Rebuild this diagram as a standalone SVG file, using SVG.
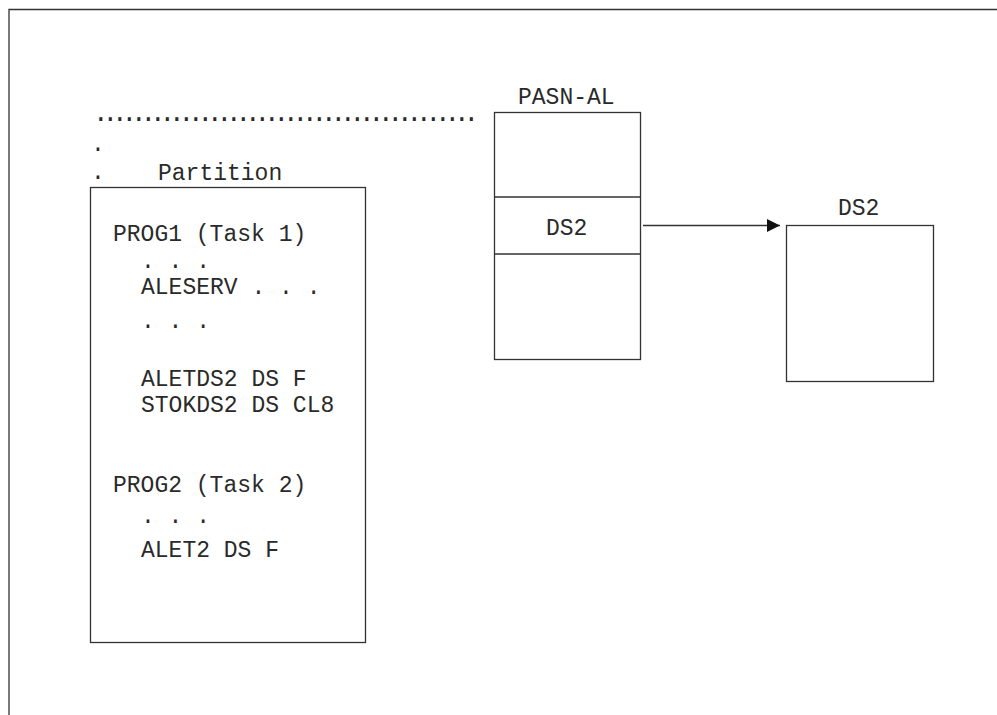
<svg xmlns="http://www.w3.org/2000/svg" width="997" height="715" viewBox="0 0 997 715">
  <style>
    .t { font-family: "Liberation Mono", "DejaVu Sans Mono", monospace; font-size: 23px; fill: #2a2a2a; }
    .dots { font-size: 26px; letter-spacing: -6.1px; }
    .box { fill: none; stroke: #333; stroke-width: 1.3; }
    .ln { stroke: #333; stroke-width: 1.3; fill: none; }
  </style>
  <defs>
    <marker id="arrow" markerWidth="13" markerHeight="13" refX="13" refY="6.5" orient="auto" markerUnits="userSpaceOnUse">
      <path d="M0,0 L13,6.5 L0,13 Z" fill="#111"/>
    </marker>
  </defs>
  <rect width="997" height="715" fill="#fff"/>

  <!-- page frame -->
  <path class="ln" d="M9,715 L9,9.5 L997,9.5"/>

  <!-- dotted boundary of the partition area -->
  <g id="boundary">
    <text class="t dots" x="93" y="121">........................................</text>
    <text class="t" x="91" y="151">.</text>
    <text class="t" x="91" y="179">.</text>
  </g>

  <!-- partition with two programs -->
  <g id="partition">
    <text class="t" x="158" y="180">Partition</text>
    <rect class="box" x="90.5" y="187.5" width="275" height="455"/>
    <text class="t" x="113" y="241">PROG1 (Task 1)</text>
    <text class="t" x="141" y="268">. . .</text>
    <text class="t" x="141" y="294">ALESERV . . .</text>
    <text class="t" x="141" y="328">. . .</text>
    <text class="t" x="141" y="386">ALETDS2 DS F</text>
    <text class="t" x="141" y="412">STOKDS2 DS CL8</text>
    <text class="t" x="113" y="492">PROG2 (Task 2)</text>
    <text class="t" x="141" y="523">. . .</text>
    <text class="t" x="141" y="557">ALET2 DS F</text>
  </g>

  <!-- primary address space access list -->
  <g id="pasn-al">
    <text class="t" x="518" y="104">PASN-AL</text>
    <rect class="box" x="494.5" y="112.5" width="146" height="247"/>
    <line class="ln" x1="494.5" y1="197" x2="640.5" y2="197"/>
    <line class="ln" x1="494.5" y1="254" x2="640.5" y2="254"/>
    <text class="t" x="546" y="235">DS2</text>
  </g>

  <!-- data space -->
  <g id="ds2">
    <text class="t" x="838" y="215">DS2</text>
    <rect class="box" x="786.5" y="225.5" width="147" height="156"/>
  </g>

  <g id="connectors">
    <line class="ln" x1="643" y1="225.5" x2="780" y2="225.5" marker-end="url(#arrow)"/>
  </g>
</svg>
